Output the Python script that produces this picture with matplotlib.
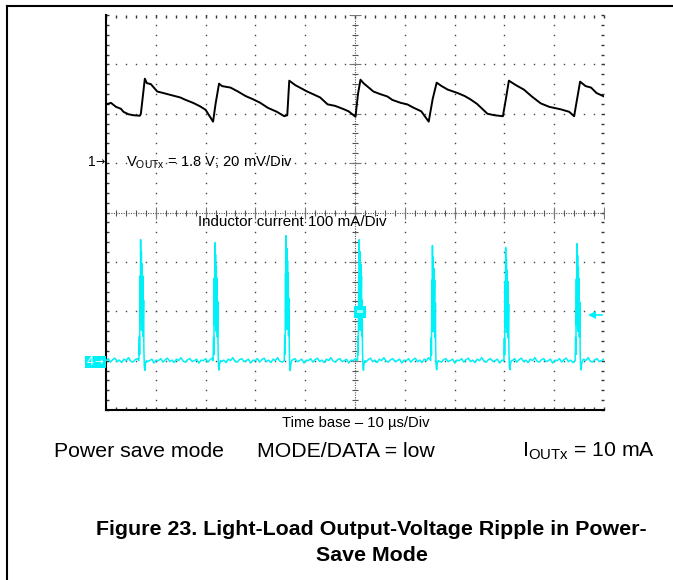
import matplotlib
matplotlib.use("Agg")
import matplotlib.pyplot as plt
from matplotlib.lines import Line2D
from matplotlib.patches import Rectangle
from matplotlib.ticker import MultipleLocator

plt.rcParams['font.family'] = ['Liberation Sans', 'DejaVu Sans']
plt.rcParams['mathtext.fontset'] = 'custom'
plt.rcParams['mathtext.rm'] = 'Liberation Sans'
plt.rcParams['mathtext.it'] = 'Liberation Sans:italic'
plt.rcParams['mathtext.bf'] = 'Liberation Sans:bold'

# channel 1: output voltage, in screen divisions (20 mV/div), time in us (10 us/div)
vout_t = [0, 1, 2, 3, 3.5, 4.5, 5.5, 6.8, 7.0, 7.8, 8.2, 9, 10.3, 11.5, 13, 14.9, 16,
          17.5, 18.9, 20, 21.5, 22.0, 22.7, 23.3, 25, 26.5, 28, 29.6, 31, 32.5, 34.3,
          35.8, 36.4, 36.8, 38, 40.4, 41.5, 43, 44.5, 46, 47.8, 48.7, 50.1, 50.6, 51.1,
          51.7, 53.7, 55, 56.5, 57.5, 59.2, 60.5, 61.8, 63.3, 64.8, 65.6, 66.4, 67.4,
          68.6, 70.6, 72, 73.2, 74.5, 76.6, 78, 79.7, 80.3, 80.9, 82.3, 83.9, 85.5,
          87.3, 89, 91.3, 93, 94, 94.6, 95.2, 96.3, 97.4, 98.5, 100]
vout_div = [2.19, 2.22, 2.14, 2.10, 2.04, 1.99, 1.97, 1.96, 2.00, 2.71, 2.62, 2.60, 2.45,
            2.42, 2.38, 2.33, 2.28, 2.22, 2.15, 2.08, 1.84, 2.20, 2.61, 2.56, 2.53, 2.45,
            2.36, 2.29, 2.22, 2.12, 2.04, 1.95, 1.97, 2.67, 2.58, 2.45, 2.40, 2.33, 2.19,
            2.16, 2.09, 2.05, 1.94, 2.40, 2.69, 2.62, 2.45, 2.40, 2.35, 2.28, 2.22, 2.19,
            2.12, 2.05, 1.84, 2.30, 2.63, 2.56, 2.49, 2.42, 2.36, 2.29, 2.20, 2.00, 1.97,
            1.95, 2.30, 2.67, 2.58, 2.49, 2.35, 2.21, 2.14, 2.09, 2.04, 1.95, 2.30, 2.65,
            2.56, 2.53, 2.42, 2.35]

# channel 4: inductor current, 100 mA/div, zero at -3 div
spike_t = [6.6, 21.5, 35.8, 50.5, 65.2, 79.9, 94.2]
spike_peak_ma = [245, 239, 253, 245, 233, 229, 237]
spike_dt = [0, 0.1, 0.15, 0.25, 0.3, 0.35, 0.45, 0.5, 0.55, 0.65, 0.7, 0.8, 0.85, 0.95,
            1.0, 1.1, 1.2, 1.3, 1.5]
spike_frac = [0, 0.2, 0.05, 0.7, 0.3, 1.0, 0.5, 0.9, 0.25, 0.8, 0.4, 0.7, 0.2, 0.5,
              0.1, -0.05, -0.08, -0.03, 0]
floor_noise_ma = [0, 4, -3, 2, 5, -2, 1, -4, 3, 0, 6, -1, -3, 2, 4, -2, 0, 3, -5, 1]
trig_level_ma = 92

CYAN = '#00f0f8'
W, H = 673, 580


def fx(px):
    return px / W


def fy(py):
    return 1 - py / H


fig = plt.figure(figsize=(W / 100, H / 100), dpi=100)

# page frame
fig.add_artist(Line2D([fx(7), 1], [fy(6), fy(6)], color='black', lw=1.5))
fig.add_artist(Line2D([fx(7), fx(7)], [fy(6), 0], color='black', lw=1.5))

ax = fig.add_axes([fx(106), fy(410), (604 - 106) / W, (410 - 15) / H])
ax.set_xlim(0, 100)
ax.set_ylim(-4, 4)
for s in ['top', 'right']:
    ax.spines[s].set_visible(False)
for s in ['left', 'bottom']:
    ax.spines[s].set_linewidth(1.5)
ax.xaxis.set_major_locator(MultipleLocator(10))
ax.xaxis.set_minor_locator(MultipleLocator(2))
ax.yaxis.set_major_locator(MultipleLocator(1))
ax.yaxis.set_minor_locator(MultipleLocator(0.2))
ax.tick_params(which='both', direction='in', length=2.5, width=1, color='#333333',
               top=True, right=True, labelbottom=False, labelleft=False)

# dotted graticule
gx = [i * 2 for i in range(51)]
gy = [i * 0.2 - 4 for i in range(41)]
for k in range(1, 10):
    if k == 5:
        continue
    ax.plot([k * 10] * len(gy), gy, ls='none', marker='s', ms=1.0, color='#444444', mew=0)
for k in range(-3, 4):
    if k == 0:
        continue
    ax.plot(gx, [k] * len(gx), ls='none', marker='s', ms=1.0, color='#444444', mew=0)

# centre cross with tick marks
ax.plot([0, 100], [0, 0], ls=(0, (1, 1.2)), lw=0.8, color='#555555')
ax.plot([50, 50], [-4, 4], ls=(0, (1, 1.2)), lw=0.8, color='#555555')
ax.plot(gx, [0] * len(gx), ls='none', marker='|', ms=4, mew=0.8, color='#555555')
ax.plot([50] * len(gy), gy, ls='none', marker='_', ms=4, mew=0.8, color='#555555')
ax.plot(list(range(0, 101, 10)), [0] * 11, ls='none', marker='|', ms=8, mew=0.8, color='#777777')
ax.plot([50] * 9, list(range(-4, 5)), ls='none', marker='_', ms=8, mew=0.8, color='#777777')

# build the current trace: noisy floor with switching bursts
cur_t, cur_ma = [], []
n = 0
t0 = 0.0
for ts, pk in zip(spike_t, spike_peak_ma):
    t = t0
    while t < ts:
        cur_t.append(t)
        cur_ma.append(floor_noise_ma[n % len(floor_noise_ma)])
        n += 1
        t += 0.45
    for dt, fr in zip(spike_dt, spike_frac):
        cur_t.append(ts + dt)
        cur_ma.append(pk * fr)
    t0 = ts + spike_dt[-1] + 0.2
t = t0
while t <= 100:
    cur_t.append(t)
    cur_ma.append(floor_noise_ma[n % len(floor_noise_ma)])
    n += 1
    t += 0.45

ax.plot(cur_t, [-3 + m / 100 for m in cur_ma], color=CYAN, lw=1.1, zorder=3)
ax.plot(vout_t, vout_div, color='black', lw=1.4, zorder=4)

# trigger level arrow on the right edge
trig_y = -3 + trig_level_ma / 100
ax.plot([97.5, 99.6], [trig_y, trig_y], color=CYAN, lw=1.2, clip_on=False)
ax.plot([97.6], [trig_y], marker='<', ms=6, color=CYAN, mew=0, clip_on=False)

# trigger position marker at the centre
fig.add_artist(Rectangle((fx(354), fy(318)), 12 / W, 12 / H, transform=fig.transFigure,
                         facecolor=CYAN, edgecolor='none'))
fig.add_artist(Rectangle((fx(357), fy(313)), 6 / W, 3 / H, transform=fig.transFigure,
                         facecolor='#9ffcff', edgecolor='none'))

# channel markers
fig.text(fx(88), fy(162), '1', fontsize=10, va='center', ha='left')
fig.text(fx(95), fy(162), '\u2192', fontsize=8, va='center', ha='left',
         family='DejaVu Sans')
fig.add_artist(Rectangle((fx(85), fy(368)), 21 / W, 12 / H, transform=fig.transFigure,
                         facecolor=CYAN, edgecolor='none'))
fig.text(fx(87), fy(362), '4', fontsize=9, va='center', ha='left', color='white')
fig.text(fx(94), fy(362), '\u2192', fontsize=7.5, va='center', ha='left',
         color='white', family='DejaVu Sans')

# annotations
fig.text(fx(126), fy(162), r'$\mathrm{V_{OUTx}}$ = 1.8 V; 20 mV/Div', fontsize=10.6,
         va='center', ha='left')
fig.text(fx(198), fy(222), 'Inductor current 100 mA/Div', fontsize=10.9,
         va='center', ha='left')
fig.text(fx(356), fy(423), 'Time base \u2013 10 \u00b5s/Div', fontsize=10.6,
         va='center', ha='center')

fig.text(fx(54), fy(457), 'Power save mode', fontsize=15.3, va='baseline', ha='left')
fig.text(fx(257), fy(457), 'MODE/DATA = low', fontsize=15.3, va='baseline', ha='left')
fig.text(fx(522), fy(457), r'$\mathrm{I_{OUTx}}$ = 10 mA', fontsize=15.3,
         va='baseline', ha='left')

fig.text(fx(371), fy(535), 'Figure 23. Light-Load Output-Voltage Ripple in Power-',
         fontsize=15.4, fontweight='bold', va='baseline', ha='center')
fig.text(fx(372), fy(561), 'Save Mode', fontsize=15.4, fontweight='bold',
         va='baseline', ha='center')

fig.savefig('out.png', dpi=100)
